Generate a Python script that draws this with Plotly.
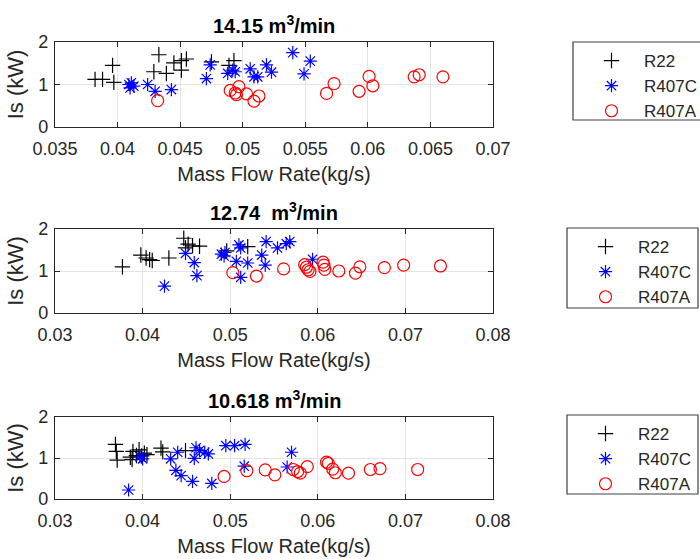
import plotly.graph_objects as go

# ---------------- data ----------------
titles = ["14.15 m<sup>3</sup>/min", "12.74  m<sup>3</sup>/min", "10.618 m<sup>3</sup>/min"]
series_names = ["R22", "R407C", "R407A"]

r22_x1 = [0.0382, 0.0388, 0.0396, 0.0397, 0.0429, 0.0433, 0.0439, 0.0445, 0.0451, 0.0451, 0.0455, 0.0475, 0.0489, 0.0493]
r22_y1 = [1.12, 1.12, 1.45, 1.05, 1.30, 1.70, 1.26, 1.51, 1.34, 1.56, 1.60, 1.53, 1.45, 1.56]
r407c_x1 = [0.0409, 0.0410, 0.0413, 0.0411, 0.0424, 0.0430, 0.0443, 0.0471, 0.0474, 0.0488, 0.0492, 0.0494, 0.0506, 0.0509, 0.0512, 0.0519, 0.0523, 0.0540, 0.0549, 0.0554]
r407c_y1 = [1.00, 0.92, 0.96, 1.04, 1.00, 0.84, 0.88, 1.14, 1.46, 1.26, 1.34, 1.30, 1.37, 1.18, 1.18, 1.46, 1.29, 1.75, 1.25, 1.55]
r407a_x1 = [0.0432, 0.0490, 0.0494, 0.0495, 0.0497, 0.0503, 0.0509, 0.0513, 0.0567, 0.0573, 0.0593, 0.0601, 0.0604, 0.0637, 0.0641, 0.0660]
r407a_y1 = [0.62, 0.86, 0.80, 0.76, 0.95, 0.78, 0.61, 0.73, 0.79, 1.02, 0.84, 1.19, 0.97, 1.18, 1.23, 1.18]

r22_x2 = [0.0377, 0.0398, 0.0404, 0.0408, 0.0411, 0.0430, 0.0447, 0.0449, 0.0452, 0.0457, 0.0465, 0.0496, 0.0520]
r22_y2 = [1.10, 1.38, 1.31, 1.27, 1.25, 1.31, 1.78, 1.55, 1.64, 1.60, 1.59, 1.48, 1.58]
r407c_x2 = [0.0425, 0.0449, 0.0459, 0.0462, 0.0490, 0.0493, 0.0494, 0.0507, 0.0510, 0.0512, 0.0512, 0.0520, 0.0536, 0.0540, 0.0541, 0.0554, 0.0564, 0.0568, 0.0594]
r407c_y2 = [0.64, 1.42, 1.20, 0.89, 1.40, 1.36, 1.44, 1.23, 1.62, 1.55, 0.85, 1.19, 1.38, 1.14, 1.70, 1.55, 1.65, 1.70, 1.28]
r407a_x2 = [0.0503, 0.0530, 0.0561, 0.0585, 0.0587, 0.0589, 0.0591, 0.0606, 0.0607, 0.0608, 0.0624, 0.0643, 0.0648, 0.0676, 0.0698, 0.0740]
r407a_y2 = [0.96, 0.88, 1.05, 1.15, 1.09, 1.03, 0.99, 1.21, 1.14, 1.04, 1.00, 0.95, 1.10, 1.08, 1.14, 1.12]

r22_x3 = [0.0369, 0.0370, 0.0371, 0.0386, 0.0388, 0.0389, 0.0393, 0.0396, 0.0399, 0.0402, 0.0405, 0.0421, 0.0423, 0.0449]
r22_y3 = [1.33, 1.16, 0.95, 1.02, 0.96, 1.16, 1.06, 1.20, 1.05, 1.12, 1.08, 1.24, 1.15, 1.18]
r407c_x3 = [0.0384, 0.0397, 0.0400, 0.0432, 0.0440, 0.0438, 0.0444, 0.0457, 0.0461, 0.0459, 0.0465, 0.0471, 0.0475, 0.0479, 0.0495, 0.0505, 0.0517, 0.0516, 0.0565, 0.0570]
r407c_y3 = [0.22, 1.03, 0.98, 0.98, 1.14, 0.70, 0.57, 0.43, 1.25, 0.99, 1.18, 1.14, 1.10, 0.38, 1.30, 1.30, 1.33, 0.80, 0.78, 1.14]
r407a_x3 = [0.0493, 0.0519, 0.0540, 0.0551, 0.0572, 0.0577, 0.0580, 0.0588, 0.0610, 0.0612, 0.0617, 0.0620, 0.0635, 0.0660, 0.0671, 0.0714]
r407a_y3 = [0.55, 0.69, 0.71, 0.59, 0.72, 0.67, 0.63, 0.79, 0.90, 0.87, 0.73, 0.64, 0.63, 0.72, 0.74, 0.72]

x_ticks1 = [0.035, 0.04, 0.045, 0.05, 0.055, 0.06, 0.065, 0.07]
x_ticklabels1 = ["0.035", "0.04", "0.045", "0.05", "0.055", "0.06", "0.065", "0.07"]
x_ticks23 = [0.03, 0.04, 0.05, 0.06, 0.07, 0.08]
x_ticklabels23 = ["0.03", "0.04", "0.05", "0.06", "0.07", "0.08"]
y_ticks = [0, 1, 2]
x_label = "Mass Flow Rate(kg/s)"
y_label = "Is (kW)"

# ---------------- layout helpers ----------------
W, H = 700, 559
ML, MR = 55, 207
PW = W - ML - MR


def px2x(px):
    return (px - ML) / PW


def py2y(py):
    return 1 - py / H


plot_tops = [42, 229, 417]
plot_bots = [127, 313, 499]
legend_boxes = [(573, 42, 720, 120), (567, 228, 698, 308), (567, 415, 698, 494)]

FONT = "Liberation Sans, Arial, sans-serif"
TXT = "#262626"

styles = {
    "R22": dict(symbol="cross-thin-open", size=11, color="black", line=dict(color="black", width=1.2)),
    "R407C": dict(symbol="asterisk-open", size=11, color="blue", line=dict(color="blue", width=1.2)),
    "R407A": dict(symbol="circle-open", size=12, color="red", line=dict(color="red", width=1.2)),
}

data = [
    [(r22_x1, r22_y1), (r407c_x1, r407c_y1), (r407a_x1, r407a_y1)],
    [(r22_x2, r22_y2), (r407c_x2, r407c_y2), (r407a_x2, r407a_y2)],
    [(r22_x3, r22_y3), (r407c_x3, r407c_y3), (r407a_x3, r407a_y3)],
]

fig = go.Figure()
shapes = []
annotations = []
layout = {}

for i in range(3):
    sfx = "" if i == 0 else str(i + 1)
    xa = "x" + sfx
    ya = "y" + sfx
    leg = "legend" + sfx
    for name, (xs, ys) in zip(series_names, data[i]):
        fig.add_trace(go.Scatter(x=xs, y=ys, mode="markers", name=name,
                                 marker=styles[name], xaxis=xa, yaxis=ya,
                                 legend=leg, showlegend=True))
    ydom = [py2y(plot_bots[i]), py2y(plot_tops[i])]
    if i == 0:
        xr, tv, tt = [0.035, 0.07], x_ticks1, x_ticklabels1
    else:
        xr, tv, tt = [0.03, 0.08], x_ticks23, x_ticklabels23
    axis_common = dict(showline=True, linecolor="#262626", linewidth=1.3, mirror="ticks",
                       ticks="inside", ticklen=5, tickcolor="#262626", tickwidth=1,
                       showgrid=True, gridcolor="#e3e3e3", gridwidth=1, zeroline=False,
                       automargin=False,
                       tickfont=dict(family=FONT, size=18, color=TXT))
    layout["xaxis" + sfx] = dict(axis_common, domain=[0, 1], range=xr, tickvals=tv, ticktext=tt,
                                 anchor=ya, ticklabelstandoff=5,
                                 title=dict(text=x_label, font=dict(family=FONT, size=20, color=TXT), standoff=9))
    layout["yaxis" + sfx] = dict(axis_common, domain=ydom, range=[0, 2], tickvals=y_ticks,
                                 anchor=xa, ticklabelstandoff=2,
                                 title=dict(text=y_label, font=dict(family=FONT, size=22, color=TXT), standoff=8))
    annotations.append(dict(text="<b>" + titles[i] + "</b>", xref="paper", yref="paper",
                            x=0.5, y=ydom[1], xanchor="center", yanchor="bottom", yshift=3,
                            showarrow=False, font=dict(family=FONT, size=20, color="black")))
    bx0, by0, bx1, by1 = legend_boxes[i]
    shapes.append(dict(type="rect", xref="paper", yref="paper",
                       x0=px2x(bx0), x1=px2x(bx1), y0=py2y(by1), y1=py2y(by0),
                       line=dict(color="#404040", width=1.2), fillcolor="rgba(0,0,0,0)"))
    layout[leg] = dict(x=px2x(bx0 + 6), y=py2y(by0 + 1), xanchor="left", yanchor="top",
                       bgcolor="rgba(0,0,0,0)", borderwidth=0, itemwidth=55,
                       tracegroupgap=0,
                       font=dict(family=FONT, size=17, color=TXT))

fig.update_layout(**layout)
fig.update_layout(width=W, height=H, margin=dict(l=ML, r=MR, t=0, b=0, autoexpand=False),
                  plot_bgcolor="white", paper_bgcolor="white",
                  shapes=shapes, annotations=annotations, showlegend=True)

fig.write_html("out.html", config={"displayModeBar": False},
               post_script="document.body.style.margin='0';")
